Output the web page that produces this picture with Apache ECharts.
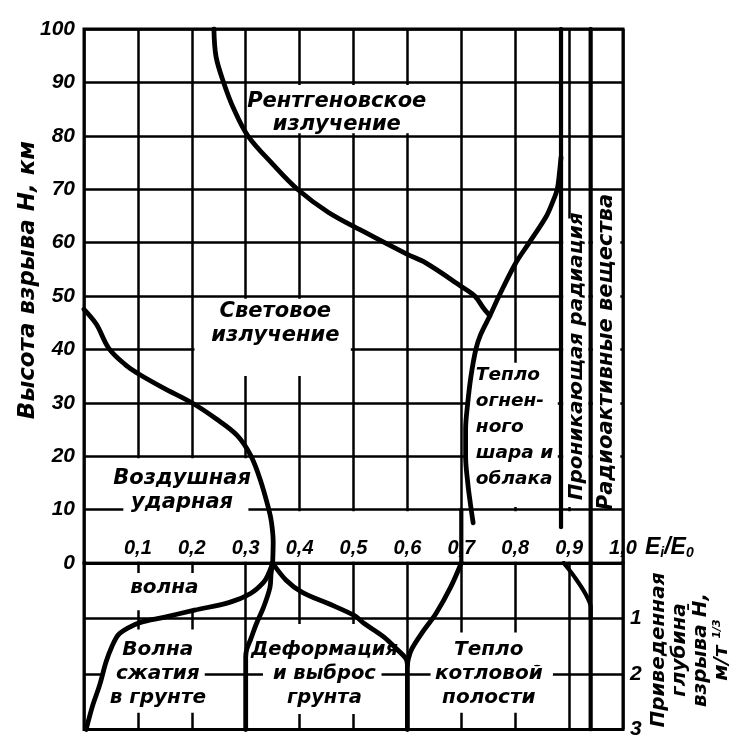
<!DOCTYPE html>
<html><head><meta charset="utf-8">
<script src="https://cdn.jsdelivr.net/npm/echarts@6/dist/echarts.min.js"></script>
<style>html,body{margin:0;padding:0;background:#fff}#c{width:739px;height:740px}</style>
</head><body><div id="c"></div>
<script>
// ---- data ----
const xTickLabels = ['0,1','0,2','0,3','0,4','0,5','0,6','0,7','0,8','0,9','1,0'];
const heightTickLabels = ['0','10','20','30','40','50','60','70','80','90','100'];
const depthTickLabels = ['', '1', '2', '3'];

// upper part: [E_i/E_0, height km]
const airShockBoundary = [[0,47.5],[0.023,44.7],[0.046,40.2],[0.077,37.1],[0.1,35.5],[0.147,32.8],[0.2,30],[0.245,27],[0.284,23.9],[0.309,20.2],[0.327,15.6],[0.343,10],[0.348,7.5],[0.351,4],[0.35,0]];
const xrayBoundary = [[0.241,100],[0.245,94.8],[0.259,90],[0.278,85],[0.304,80],[0.351,74.6],[0.396,70],[0.453,65.7],[0.52,62],[0.6,57.8],[0.634,56.2],[0.7,51.8],[0.725,50],[0.742,47.6],[0.753,46.3]];
const fireballBoundary = [[0.885,76],[0.882,73],[0.878,70],[0.869,67.5],[0.857,64.8],[0.826,60],[0.8,56],[0.77,50],[0.753,46.3],[0.736,42.8],[0.727,40],[0.718,35],[0.712,30],[0.708,25],[0.708,20],[0.712,15],[0.717,11],[0.722,7.5]];
const fireballFoot = [[0.7,10],[0.7,0]];
const penetratingUpper = [[0.885,100],[0.885,6.7]];
const radioactiveUpper = [[0.94,100],[0.94,0]];

// lower part: [E_i/E_0, reduced depth]
const groundWaveBoundary = [[0.35,0],[0.342,0.2],[0.333,0.35],[0.309,0.55],[0.27,0.71],[0.205,0.85],[0.148,0.98],[0.105,1.07],[0.082,1.17],[0.064,1.29],[0.052,1.5],[0.041,1.78],[0.029,2.2],[0.016,2.57],[0.004,3]];
const craterBoundary = [[0.35,0],[0.347,0.2],[0.345,0.44],[0.333,0.8],[0.32,1.09],[0.309,1.38],[0.302,1.55],[0.3,1.7],[0.3,3]];
const cavityLeftBoundary = [[0.35,0],[0.375,0.31],[0.405,0.53],[0.453,0.73],[0.502,0.95],[0.52,1.09],[0.556,1.33],[0.58,1.55],[0.597,1.72],[0.6,1.84],[0.6,3]];
const cavityRightBoundary = [[0.7,0],[0.68,0.44],[0.653,0.91],[0.627,1.26],[0.608,1.55],[0.602,1.72],[0.6,1.84]];
const penetratingLower = [[0.89,0],[0.91,0.25],[0.93,0.55],[0.94,0.8],[0.94,1.0]];
const radioactiveLower = [[0.94,0],[0.94,3]];

// ---- chart ----
const FN = '"Liberation Sans","DejaVu Sans",sans-serif';   // numbers
const FT = '"DejaVu Sans","Liberation Sans",sans-serif';   // words
const txt = (size, fam) => ({fontFamily:fam||FN, fontStyle:'italic', fontWeight:'bold', fontSize:size, color:'#000', textBorderWidth:0, opacity:1});
const chart = echarts.init(document.getElementById('c'), null, {renderer:'canvas'});

function curve(data, xi, yi, width) {
  return {type:'line', data, xAxisIndex:xi, yAxisIndex:yi, smooth:0.35, symbol:'none',
    lineStyle:{color:'#000', width, cap:'round', join:'round'}, z:5, silent:true, animation:false};
}
function textItem(x, y, text, size, extra) {
  return {value:[x,y], label:Object.assign({show:true, position:'inside', formatter:text, lineHeight:24, align:'center', verticalAlign:'middle'}, txt(size, FT), extra||{})};
}
function gap(x1,y1,x2,y2){ return [{xAxis:x1,yAxis:y1},{xAxis:x2,yAxis:y2}]; }

const splitStyle = {show:true, lineStyle:{color:'#000', width:2.5}};

chart.setOption({
  backgroundColor:'#fff',
  animation:false,
  grid:[
    {left:84, top:29, width:539, height:534, show:true, borderColor:'#000', borderWidth:3},
    {left:84, top:563, width:539, height:167, show:true, borderColor:'#000', borderWidth:3}
  ],
  xAxis:[
    {gridIndex:0, type:'value', min:0, max:1, interval:0.1, position:'bottom', axisLine:{show:false}, axisTick:{show:false}, axisLabel:{show:false}, splitLine:splitStyle},
    {gridIndex:1, type:'value', min:0, max:1, interval:0.1, position:'top', axisLine:{show:false}, axisTick:{show:false}, axisLabel:{show:false}, splitLine:splitStyle},
    {gridIndex:1, type:'value', min:0, max:1, interval:0.1, position:'top', z:10, axisLine:{show:false}, axisTick:{show:false}, splitLine:{show:false},
      axisLabel:Object.assign({show:true, margin:5, showMinLabel:false, formatter:(v)=>{const i=Math.round(v*10);return i>0?xTickLabels[i-1]:'';}}, txt(20)),
      name:'E{s|i}/E{s|0}', nameLocation:'end', nameGap:22,
      nameTextStyle:Object.assign({verticalAlign:'bottom', padding:[0,0,3,0], rich:{s:Object.assign(txt(14),{padding:[10,0,0,0]})}}, txt(23))}
  ],
  yAxis:[
    {gridIndex:0, type:'value', min:0, max:100, interval:10, position:'left', axisLine:{show:false}, axisTick:{show:false},
      axisLabel:Object.assign({show:true, margin:9, formatter:(v)=>heightTickLabels[Math.round(v/10)]}, txt(21)), splitLine:splitStyle},
    {gridIndex:1, type:'value', min:0, max:3, interval:1, inverse:true, position:'right', axisLine:{show:false}, axisTick:{show:false},
      axisLabel:Object.assign({show:true, margin:7, formatter:(v)=>depthTickLabels[Math.round(v)]}, txt(21)), splitLine:splitStyle}
  ],
  graphic:[
    {type:'text', x:28, y:280, rotation:Math.PI/2, style:{text:'Высота взрыва Н, км', align:'center', verticalAlign:'middle', fill:'#000', font:'italic bold 23px '+FT}},
    {type:'text', x:690, y:650, rotation:Math.PI/2, style:{text:'Приведенная\nглубина\nвзрыва H\u0304,\nм/т {sup|1/3}', align:'center', verticalAlign:'middle', fill:'#000', font:'italic bold 20px '+FT, lineHeight:21,
      rich:{sup:{font:'italic bold 11px '+FT, fill:'#000', padding:[0,0,8,0]}}}}
  ],
  series:[
    // upper text labels + white gaps where the grid is interrupted
    {type:'scatter', xAxisIndex:0, yAxisIndex:0, symbolSize:0, z:4, silent:true, itemStyle:{opacity:1},
      data:[
        textItem(0.469, 84.3, 'Рентгеновское\nизлучение', 21, {lineHeight:23}),
        textItem(0.355, 44.9, 'Световое\nизлучение', 21, {lineHeight:24}),
        textItem(0.182, 13.5, 'Воздушная\nударная', 21, {lineHeight:24}),
        textItem(0.727, 25.4, 'Тепло\nогнен-\nного\nшара и\nоблака', 18.5, {align:'left', lineHeight:26}),
        textItem(0.914, 38.7, 'Проникающая радиация', 20, {rotate:90}),
        textItem(0.97, 39.5, 'Радиоактивные вещества', 21, {rotate:90})
      ],
      markArea:{silent:true, itemStyle:{color:'#fff', opacity:1, borderWidth:0}, label:{show:false},
        data:[gap(0.004,0.3,0.996,9.7), gap(0.305,80.5,0.65,89.5), gap(0.205,35,0.495,49.5), gap(0.073,9.5,0.305,19.6),
              gap(0.712,10.5,0.879,37.5), gap(0.889,10.5,0.936,64.5), gap(0.944,10.5,0.995,69.5)]}
    },
    {type:'scatter', xAxisIndex:1, yAxisIndex:1, symbolSize:0, z:4, silent:true, itemStyle:{opacity:1},
      data:[
        textItem(0.149, 0.45, 'волна', 20),
        textItem(0.137, 2.0, 'Волна\nсжатия\nв грунте', 20),
        textItem(0.446, 2.0, 'Деформация\nи выброс\nгрунта', 19.5),
        textItem(0.751, 2.0, 'Тепло\nкотловой\nполости', 20)
      ],
      markArea:{silent:true, itemStyle:{color:'#fff', opacity:1, borderWidth:0}, label:{show:false},
        data:[gap(0.082,0.18,0.222,0.85), gap(0.032,1.2,0.224,2.7), gap(0.332,1.1,0.552,2.72), gap(0.643,1.25,0.87,2.7)]}
    },
    curve(airShockBoundary,0,0,4.8),
    curve(xrayBoundary,0,0,4.8),
    curve(fireballBoundary,0,0,4.8),
    curve(fireballFoot,0,0,4.2),
    curve(penetratingUpper,0,0,4.2),
    curve(radioactiveUpper,0,0,4.2),
    curve(groundWaveBoundary,1,1,4.8),
    curve(craterBoundary,1,1,4.8),
    curve(cavityLeftBoundary,1,1,4.8),
    curve(cavityRightBoundary,1,1,4.8),
    curve(penetratingLower,1,1,4.2),
    curve(radioactiveLower,1,1,4.2)
  ]
});
</script></body></html>
